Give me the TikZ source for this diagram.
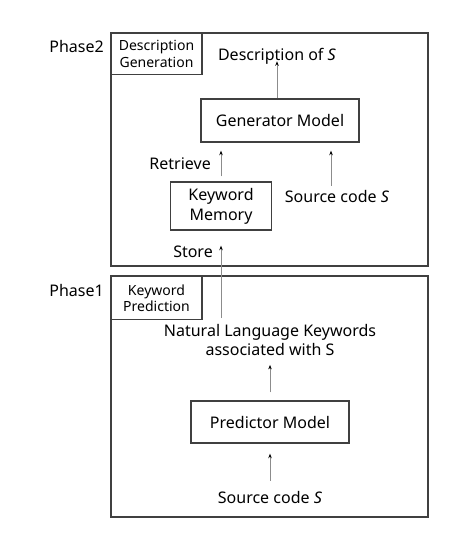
\documentclass[tikz,border=0pt]{standalone}
\usepackage{fontspec}
\setmainfont{Noto Sans}
\usetikzlibrary{arrows.meta}
\begin{document}
\begin{tikzpicture}[x=1pt,y=-1pt,
  phasebox/.style={draw=black!75, line width=1.4pt, inner sep=0pt},
  labelbox/.style={draw=black!75, line width=1.3pt, inner sep=0pt, align=center, font=\fontsize{14}{16.5}\selectfont},
  modelbox/.style={draw=black!75, line width=1.4pt, inner sep=0pt, align=center, font=\fontsize{16}{20}\selectfont},
  txt/.style={inner sep=0pt, align=center, font=\fontsize{16}{19}\selectfont},
  arr/.style={draw=black!45, line width=0.9pt, -{Stealth[length=4.5pt,width=3.5pt,color=black]}}
]
\useasboundingbox (0,0) rectangle (472,545);
% Phase 2
\node[phasebox, minimum width=317, minimum height=233] (p2) at (269.5,149.5) {};
\node[labelbox, minimum width=91, minimum height=41] (dg) at (156.5,54) {Description\\Generation};
\node[txt, anchor=east] (ph2) at (104,47) {Phase2};
\node[txt] (desc) at (277,56) {Description of \textit{S}};
\node[modelbox, minimum width=158, minimum height=43] (gen) at (280,120.5) {Generator Model};
\node[modelbox, minimum width=101, minimum height=48] (km) at (221,206) {Keyword\\Memory};
\node[txt, anchor=east] (ret) at (211,164) {Retrieve};
\node[txt] (src2) at (337,197) {Source code \textit{S}};
\node[txt, anchor=east] (store) at (213,252) {Store};
% Phase 1
\node[phasebox, minimum width=317, minimum height=241] (p1) at (269.5,396.5) {};
\node[labelbox, minimum width=91, minimum height=43] (kp) at (156.5,298) {Keyword\\Prediction};
\node[txt, anchor=east] (ph1) at (104,290) {Phase1};
\node[txt] (nlk) at (270,340) {Natural Language Keywords\\associated with S};
\node[modelbox, minimum width=158, minimum height=42] (pred) at (270,422) {Predictor Model};
\node[txt] (src1) at (270,497) {Source code \textit{S}};
\coordinate (storestart) at (221,318);
% connectors
\draw[arr, shorten >=1pt] (gen.north -| desc) -- ([yshift=4pt]desc.south);
\draw[arr, shorten <=5pt, shorten >=8pt] (km.north) -- (km.north |- gen.south);
\draw[arr, shorten <=5pt, shorten >=8pt] (src2.north -| 331,0) -- (gen.south -| 331,0);
\draw[arr, shorten >=15pt] (storestart) -- (storestart |- km.south);
\draw[arr, shorten <=8pt, shorten >=9pt] (pred.north) -- (pred.north |- nlk.south);
\draw[arr, shorten <=10pt, shorten >=10pt] (src1.north) -- (src1.north |- pred.south);
\end{tikzpicture}
\end{document}
